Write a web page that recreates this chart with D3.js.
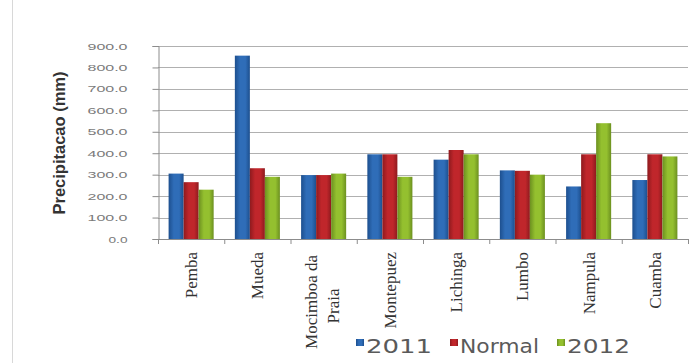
<!DOCTYPE html>
<html>
<head>
<meta charset="utf-8">
<script src="https://d3js.org/d3.v7.min.js"></script>
<style>
  body { margin: 0; background: #fff; }
</style>
</head>
<body>
<div id="chart"></div>
<script>
// data
const stations = ["Pemba", "Mueda", "Mocimboa da Praia", "Montepuez", "Lichinga", "Lumbo", "Nampula", "Cuamba"];
const series = ["2011", "Normal", "2012"];
const rain2011 = [305, 855, 298, 395, 370, 320, 245, 275];
const rainNormal = [265, 330, 298, 395, 415, 318, 395, 395];
const rain2012 = [230, 290, 305, 290, 395, 300, 540, 385];
const yTicks = [0, 100, 200, 300, 400, 500, 600, 700, 800, 900];

const values = [rain2011, rainNormal, rain2012];
const colors = ["#2f6db8", "#c0262b", "#94c02f"];
const dark = ["#1d4f8e", "#8e1a1e", "#6c9020"];

const W = 695, H = 363;
const plotLeft = 158, plotRight = 688, plotTop = 46, plotBottom = 239;

const svg = d3.select("#chart").append("svg")
    .attr("width", W)
    .attr("height", H)
    .style("font-family", "DejaVu Sans, Verdana, sans-serif");

// chart area border on the left
svg.append("line")
    .attr("x1", 12.5).attr("x2", 12.5)
    .attr("y1", 0).attr("y2", H)
    .attr("stroke", "#d8d8d8");

// gradients for the cylinder look
const defs = svg.append("defs");
series.forEach((s, i) => {
    const g = defs.append("linearGradient")
        .attr("id", "g" + i)
        .attr("x1", "0%").attr("x2", "100%")
        .attr("y1", "0%").attr("y2", "0%");
    g.append("stop").attr("offset", "0%").attr("stop-color", dark[i]);
    g.append("stop").attr("offset", "35%").attr("stop-color", colors[i]);
    g.append("stop").attr("offset", "70%").attr("stop-color", colors[i]);
    g.append("stop").attr("offset", "100%").attr("stop-color", dark[i]);
});

const x = d3.scaleBand()
    .domain(stations)
    .range([plotLeft, plotRight])
    .paddingInner(0.32)
    .paddingOuter(0.16);

const xs = d3.scaleBand()
    .domain(series)
    .range([0, x.bandwidth()]);

const y = d3.scaleLinear()
    .domain([0, 900])
    .range([plotBottom, plotTop]);

// gridlines
svg.append("g")
    .selectAll("line")
    .data(yTicks.slice(1))
    .join("line")
    .attr("x1", plotLeft).attr("x2", plotRight)
    .attr("y1", d => Math.round(y(d)) + 0.5)
    .attr("y2", d => Math.round(y(d)) + 0.5)
    .attr("stroke", "#b0b0b0");

// y axis
const yAxis = svg.append("g")
    .attr("transform", `translate(${plotLeft + 0.5},0)`)
    .call(d3.axisLeft(y).tickValues(yTicks).tickFormat(d => d.toFixed(1)).tickSize(6).tickPadding(25));
yAxis.select(".domain").attr("stroke", "#8c8c8c");
yAxis.selectAll(".tick line").attr("stroke", "#8c8c8c");
yAxis.selectAll("text")
    .attr("fill", "#7a7a7a")
    .style("font-size", "9.5px")
    .attr("textLength", d => d === 0 ? 19 : 40)
    .attr("lengthAdjust", "spacingAndGlyphs");

// bars
stations.forEach((st, ci) => {
    svg.append("g")
        .selectAll("rect")
        .data(series)
        .join("rect")
        .attr("x", s => x(st) + xs(s))
        .attr("width", xs.bandwidth())
        .attr("y", (s, i) => y(values[i][ci]))
        .attr("height", (s, i) => plotBottom - y(values[i][ci]))
        .attr("fill", (s, i) => `url(#g${i})`);
});

// x axis
const step = x.step();
svg.append("line")
    .attr("x1", plotLeft).attr("x2", plotRight)
    .attr("y1", plotBottom + 0.5).attr("y2", plotBottom + 0.5)
    .attr("stroke", "#8c8c8c");
svg.append("g")
    .selectAll("line")
    .data(d3.range(stations.length + 1))
    .join("line")
    .attr("x1", i => plotLeft + i * step + 0.5)
    .attr("x2", i => plotLeft + i * step + 0.5)
    .attr("y1", plotBottom).attr("y2", plotBottom + 5)
    .attr("stroke", "#8c8c8c");

// station labels, rotated; the long one wraps to two lines
const lab = svg.append("g")
    .selectAll("text")
    .data(stations)
    .join("text")
    .attr("transform", d => `translate(${x(d) + x.bandwidth() / 2},252) rotate(-90)`)
    .attr("fill", "#333")
    .style("font-family", "Liberation Serif, Times New Roman, serif")
    .style("font-size", "17px");
lab.each(function (d) {
    const t = d3.select(this);
    if (d === "Mocimboa da Praia") {
        t.attr("text-anchor", "middle");
        t.append("tspan").attr("x", -50).attr("y", -7).text("Mocimboa da");
        t.append("tspan").attr("x", -54).attr("y", 15).text("Praia");
    } else {
        t.attr("text-anchor", "end").attr("y", 6).text(d);
    }
});

// y axis title
svg.append("text")
    .attr("transform", `translate(65,143) rotate(-90)`)
    .attr("text-anchor", "middle")
    .attr("fill", "#333")
    .style("font-family", "Liberation Sans, Arial, sans-serif")
    .style("font-size", "16.5px")
    .style("font-weight", "bold")
    .text("Precipitacao (mm)");

// legend
const legendX = [356, 450, 557];
const legendW = [66, 79, 63];
const leg = svg.append("g")
    .selectAll("g")
    .data(series)
    .join("g")
    .attr("transform", (d, i) => `translate(${legendX[i]},339)`);
leg.append("rect")
    .attr("width", 8).attr("height", 7)
    .attr("fill", (d, i) => `url(#g${i})`);
leg.append("text")
    .attr("x", 10).attr("y", 14)
    .attr("fill", "#5a5a5a")
    .style("font-size", "19px")
    .attr("textLength", (d, i) => legendW[i])
    .attr("lengthAdjust", "spacingAndGlyphs")
    .text(d => d);
</script>
</body>
</html>
